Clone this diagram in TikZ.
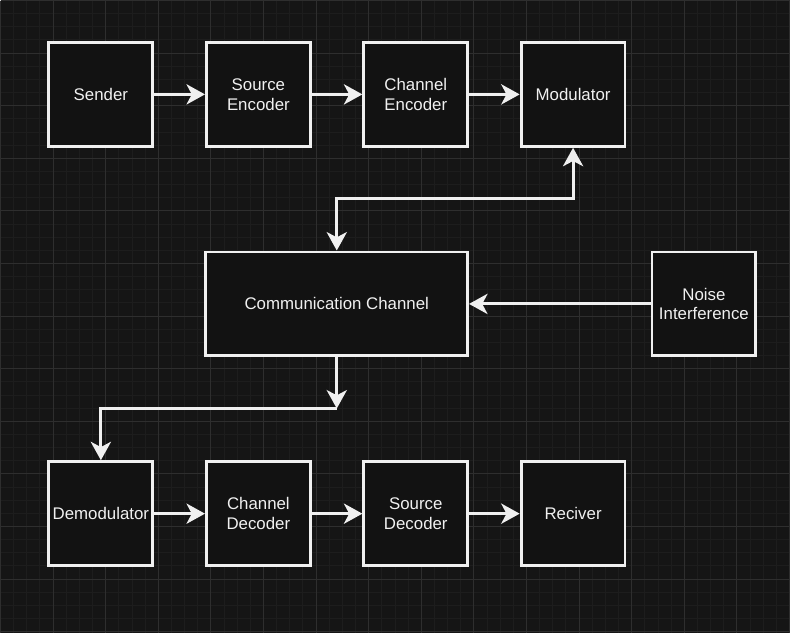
\documentclass[tikz,border=0pt]{standalone}
\usepackage{fontspec}
\setmainfont{Liberation Sans}
\usetikzlibrary{arrows.meta,calc}
\definecolor{canvas}{HTML}{151515}
\definecolor{gridminor}{HTML}{1D1D1D}
\definecolor{gridmajor}{HTML}{2E2E2E}
\definecolor{ink}{HTML}{F0F0F0}
\definecolor{boxfill}{HTML}{121212}
\tikzset{
    block/.style={draw=ink,fill=boxfill,line width=1.7pt,minimum width=2.08cm,minimum height=2.08cm,
      inner sep=0pt,text=ink,align=center,font=\fontsize{9.6}{11.3}\selectfont},
    wide block/.style={block,minimum width=5.24cm},
    tip/.style={Stealth[length=10.5pt,width=11.5pt,inset=3pt]},
    link/.style={draw=ink,line width=1.7pt,-{Stealth[length=10.5pt,width=11.5pt,inset=3pt]}},
    both link/.style={link,{Stealth[length=10.5pt,width=11.5pt,inset=3pt]}-{Stealth[length=10.5pt,width=11.5pt,inset=3pt]}},
  }
\begin{document}
\begin{tikzpicture}[x=0.02cm,y=-0.02cm]
				  %fond et grille
				  \fill[canvas] (0,0) rectangle (790,633);
				  \foreach \k in {0,...,60} \draw[gridminor,line width=0.57pt] (\k*13.1667,0) -- (\k*13.1667,633);
				  \foreach \k in {0,...,48} \draw[gridminor,line width=0.57pt] (0,\k*13.1667) -- (790,\k*13.1667);
				  \foreach \k in {0,...,15} \draw[gridmajor,line width=0.57pt] (\k*52.667,0) -- (\k*52.667,633);
				  \foreach \k in {0,...,12} \draw[gridmajor,line width=0.57pt] (0,\k*52.667) -- (790,\k*52.667);
				  %emission
				  \node[block] (sender) at (100.5,94) {Sender};
				  \node[block] (srcenc) at (258.2,94) {Source\\Encoder};
				  \node[block] (chenc) at (415.8,94) {Channel\\Encoder};
				  \node[block] (mod) at (573.3,94) {Modulator};
				  %canal
				  \node[wide block] (cc) at (336.7,303.8) {Communication Channel};
				  \node[block] (noise) at (704.3,303.8) {Noise\\Interference};
				  %reception
				  \node[block] (demod) at (100.5,513.8) {Demodulator};
				  \node[block] (chdec) at (258.2,513.8) {Channel\\Decoder};
				  \node[block] (srcdec) at (415.8,513.8) {Source\\Decoder};
				  \node[block] (recv) at (573.3,513.8) {Reciver};
				  %coudes
				  \coordinate (upturn) at (455,198.3);
				  \coordinate (downturn) at (336.7,408.5);
				  \draw[link] (sender) -- (srcenc);
				  \draw[link] (srcenc) -- (chenc);
				  \draw[link] (chenc) -- (mod);
				  \draw[both link] (mod.south) -- (mod.south |- upturn) -- (cc.north |- upturn) -- (cc.north);
				  \draw[link] (noise) -- (cc);
				  \draw[link] (cc.south) -- (downturn);
				  \draw[link] (downturn) -| (demod.north);
				  \draw[link] (demod) -- (chdec);
				  \draw[link] (chdec) -- (srcdec);
				  \draw[link] (srcdec) -- (recv);
				  \end{tikzpicture}
\end{document}
